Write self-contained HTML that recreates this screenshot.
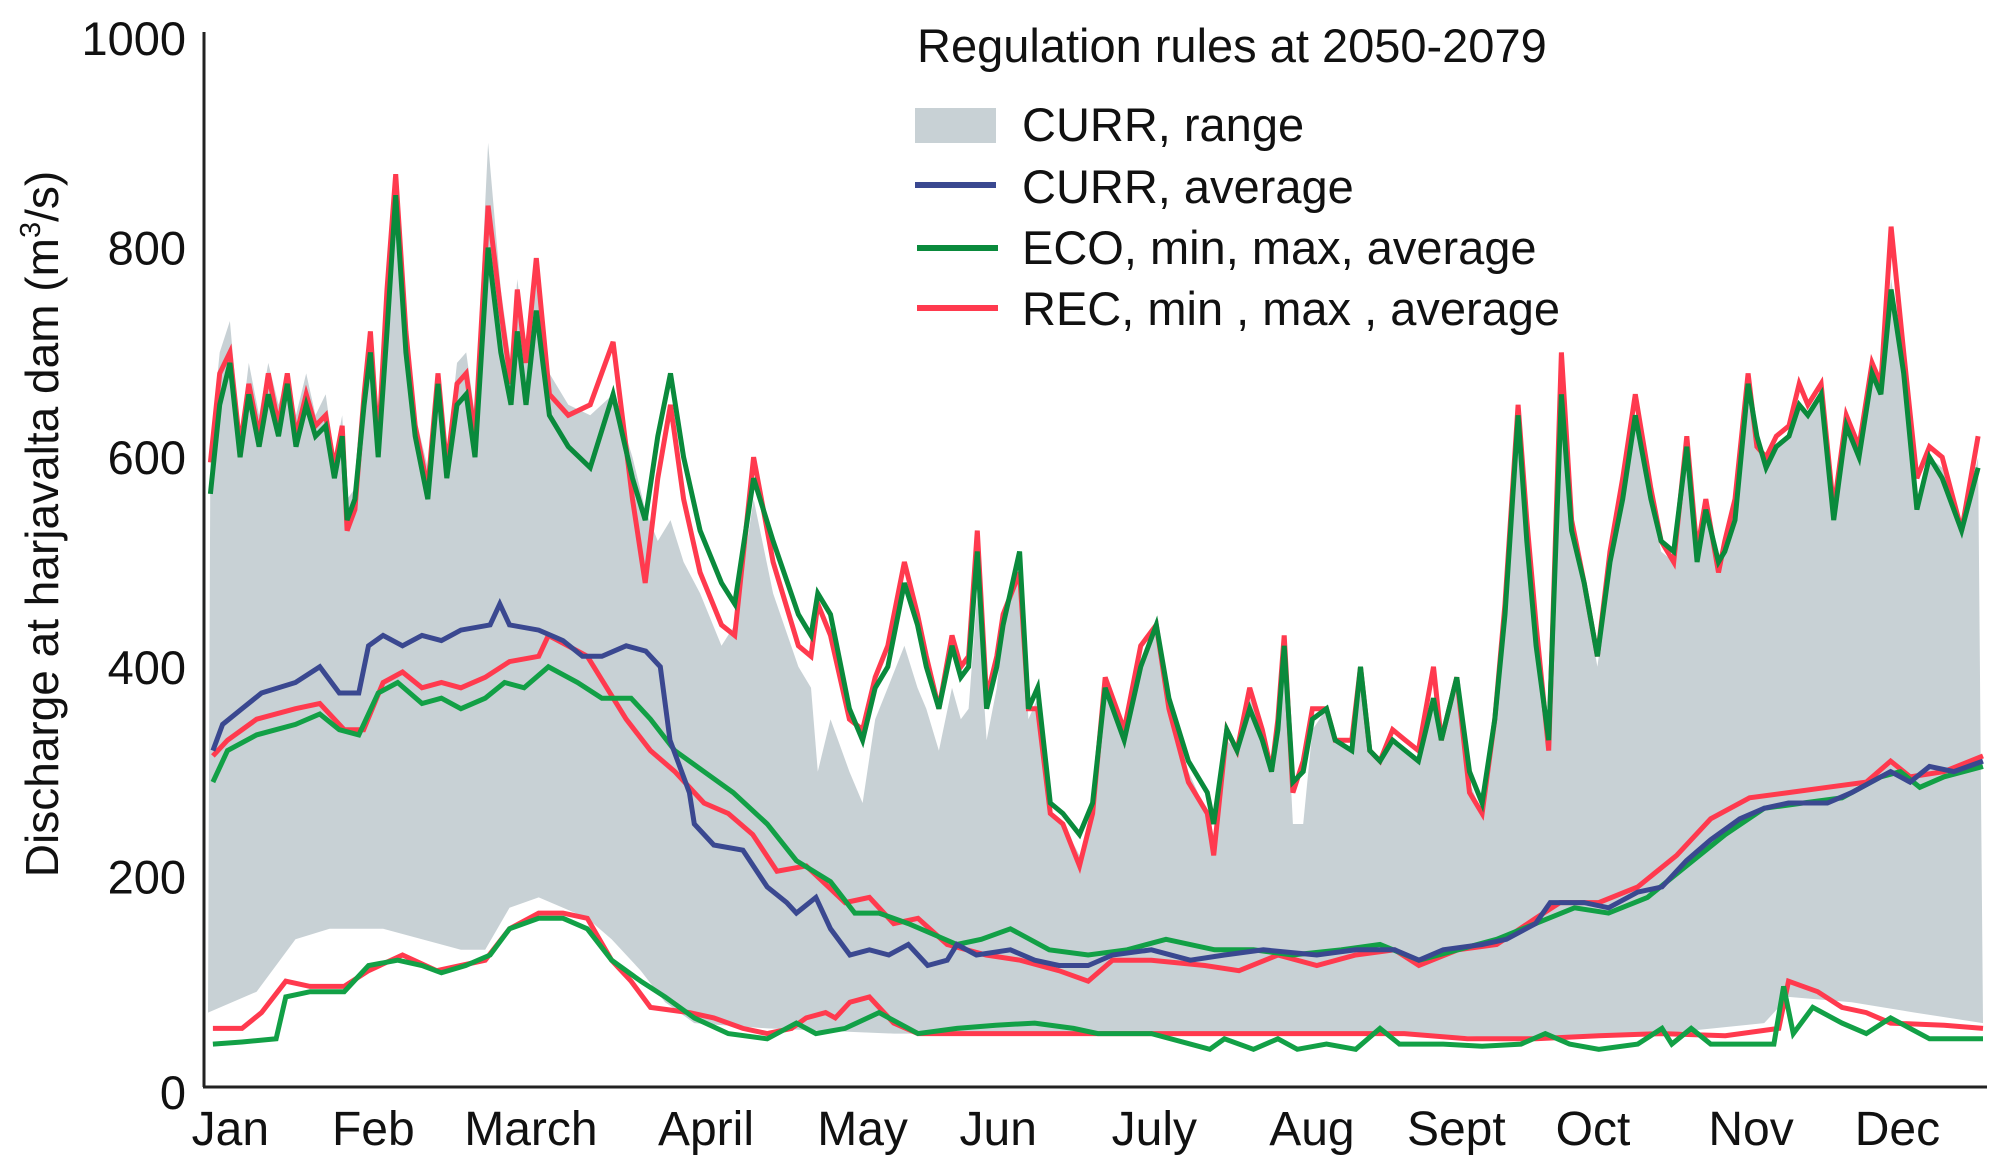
<!DOCTYPE html>
<html><head><meta charset="utf-8"><style>
html,body{margin:0;padding:0;background:#fff;}
svg{display:block;font-family:"Liberation Sans",Arial,sans-serif;}
</style></head><body>
<svg id="chart" width="2003" height="1172" viewBox="0 0 2003 1172" xmlns="http://www.w3.org/2000/svg">
<g id="plot"></g>
<line x1="204" y1="32" x2="204" y2="1087" stroke="#222" stroke-width="3"/>
<line x1="203" y1="1087" x2="1987" y2="1087" stroke="#222" stroke-width="3"/>
<g id="yticks" font-size="47" fill="#111" text-anchor="end"></g>
<g id="xticks" font-size="48" fill="#111" text-anchor="middle"></g>
<text transform="translate(58,524) rotate(-90)" text-anchor="middle" font-size="46" fill="#111">Discharge at harjavalta dam (m<tspan font-size="29" dy="-18">3</tspan><tspan dy="18">/s)</tspan></text>
<g font-size="47" fill="#111">
<text x="917" y="62">Regulation rules at 2050-2079</text>
<rect x="915" y="108" width="81" height="35" fill="#c8d1d5"/>
<text x="1022" y="141">CURR, range</text>
<line x1="915" y1="185" x2="996" y2="185" stroke="#3a4890" stroke-width="6"/>
<text x="1022" y="203">CURR, average</text>
<line x1="917" y1="248" x2="998" y2="248" stroke="#0a8a3c" stroke-width="6"/>
<text x="1022" y="264">ECO, min, max, average</text>
<line x1="917" y1="308" x2="998" y2="308" stroke="#ff3a4e" stroke-width="6"/>
<text x="1022" y="325">REC, min , max , average</text>
</g>
</svg>
<script>
const yTicks = [0,200,400,600,800,1000];
const months = ["Jan","Feb","March","April","May","Jun","July","Aug","Sept","Oct","Nov","Dec"];
const monthDays = [4.6,34,66.4,102.4,134.6,162.5,194.6,227,256.7,284.8,317.3,347.4];

const maxDays = [0.5,2.4,4.5,6.6,8.4,10.5,12.4,14.5,16.3,18.1,20.2,22.1,24.2,26.0,27.6,28.6,30.2,32.1,33.4,35.0,36.8,38.6,40.7,42.6,45.2,47.3,49.1,51.2,53.1,54.9,57.6,60.2,62.3,63.6,65.4,67.5,70.2,74.1,78.6,83.3,87.3,89.9,92.5,95.1,97.8,101.2,105.6,108.3,112.2,116.2,121.4,124.0,125.4,128.0,131.9,134.6,137.2,139.8,143.2,145.9,147.7,150.3,153.0,154.8,156.4,158.2,160.1,162.2,163.5,166.9,168.7,170.6,173.2,175.8,179.2,181.9,184.5,188.4,191.8,195.0,197.6,201.6,205.5,206.8,209.5,211.6,214.2,216.8,218.7,220.0,221.3,223.1,225.2,227.1,230.0,231.8,235.2,237.0,238.9,241.0,243.6,246.2,248.9,252.0,253.6,256.8,259.4,262.0,264.6,266.7,269.4,271.2,273.1,275.7,278.3,280.4,283.0,285.7,288.3,290.9,293.5,296.7,298.8,301.4,304.1,306.2,308.0,310.6,311.9,314.0,316.7,318.5,320.4,322.5,325.1,327.2,329.0,331.7,334.3,336.9,339.5,342.2,344.0,346.1,348.7,351.4,354.0,356.6,360.6,364.0];
const ecoMax = [565,650,690,600,660,610,660,620,670,610,650,620,630,580,620,540,560,650,700,600,720,850,700,620,560,670,580,650,660,600,800,700,650,720,650,740,640,610,590,660,580,540,620,680,600,530,480,460,580,520,450,430,470,450,360,330,380,400,480,440,400,360,420,390,400,510,360,400,440,510,360,380,270,260,240,270,380,330,400,440,370,310,280,250,340,320,360,330,300,340,420,290,300,350,360,330,320,400,320,310,330,320,310,370,330,390,300,270,350,450,640,520,420,330,660,530,480,410,500,560,640,560,520,510,610,500,550,500,510,540,670,620,590,610,620,650,640,660,540,630,600,680,660,760,680,550,600,580,530,590];
const recMax = [595,680,700,610,670,620,680,630,680,620,660,630,640,590,630,530,550,660,720,610,760,870,720,630,570,680,590,670,680,620,840,740,670,760,690,790,660,640,650,710,560,480,580,650,560,490,440,430,600,500,420,410,460,430,350,340,390,420,500,450,410,360,430,400,410,530,370,410,450,490,360,360,260,250,210,260,390,340,420,440,360,290,260,220,340,320,380,340,300,350,430,280,310,360,360,330,330,400,320,310,340,330,320,400,330,390,280,260,350,460,650,540,440,320,700,540,480,410,510,580,660,570,520,500,620,510,560,490,520,560,680,610,600,620,630,670,650,670,550,640,610,690,670,820,700,580,610,600,530,620];
const currRangeMax = [610,700,730,620,690,640,690,650,680,640,680,640,660,600,640,560,570,680,720,620,770,870,740,640,590,680,600,690,700,640,900,760,690,770,700,780,680,650,640,660,600,550,520,540,500,470,420,440,560,470,400,380,300,350,300,270,350,380,420,380,360,320,380,350,360,470,330,380,440,500,350,370,260,250,220,260,380,330,400,440,370,300,260,240,330,320,370,340,300,350,420,250,250,340,360,330,320,400,320,310,330,320,310,370,330,390,290,260,340,440,640,520,420,330,660,530,470,400,490,560,640,560,510,500,610,500,540,490,510,540,670,610,590,610,620,650,640,660,540,630,600,680,660,770,690,560,600,590,530,600];
const rangeMinDays = [0,10,18,25,36,44,52,57,62,68,73,78,83,89,94,100,115,141,167,194,220,246,273,299,320,325,338,351,365];
const currRangeMin = [70,90,140,150,150,140,130,130,170,180,170,160,140,110,80,60,55,50,50,50,50,50,45,50,60,85,80,70,60];
const currAvgDays = [1,3,7,11,18,23,27,31,33,36,40,44,48,52,58,60,62,68,73,77,81,86,90,93,95,99,100,104,110,115,119,121,125,128,132,136,140,144,148,152,154,158,165,170,175,181,186,194,202,209,217,228,236,244,249,254,262,267,273,276,283,288,294,299,304,309,315,320,325,333,338,346,350,354,359,365];
const currAvg = [320,345,360,375,385,400,375,375,420,430,420,430,425,435,440,460,440,435,425,410,410,420,415,400,330,280,250,230,225,190,175,165,180,150,125,130,125,135,115,120,135,125,130,120,115,115,125,130,120,125,130,125,130,130,120,130,135,140,155,175,175,170,185,190,215,235,255,265,270,270,280,300,290,305,300,310];
const recAvgDays = [1,4,10,18,23,28,32,36,40,44,48,52,57,62,68,70,74,78,82,86,91,96,102,107,112,117,123,131,136,141,146,152,160,167,175,181,186,194,205,212,220,228,236,244,249,257,265,273,278,286,294,302,309,317,325,333,341,346,350,357,365];
const recAvg = [315,330,350,360,365,340,340,385,395,380,385,380,390,405,410,430,420,410,380,350,320,300,270,260,240,205,210,175,180,155,160,135,125,120,110,100,120,120,115,110,125,115,125,130,115,130,135,160,175,175,190,220,255,275,280,285,290,310,295,300,315];
const ecoAvgDays = [1,4,10,18,23,27,31,35,39,44,48,52,57,61,65,70,76,81,87,91,96,102,108,115,121,128,133,138,144,149,154,159,165,173,181,189,197,207,215,223,233,241,249,257,265,273,281,288,296,304,312,320,328,336,344,348,352,357,365];
const ecoAvg = [290,320,335,345,355,340,335,375,385,365,370,360,370,385,380,400,385,370,370,350,320,300,280,250,215,195,165,165,155,145,135,140,150,130,125,130,140,130,130,125,130,135,120,130,140,155,170,165,180,210,240,265,270,275,295,300,285,295,305];
const recMinDays = [1,7,11,16,21,28,33,40,47,52,57,62,68,73,78,83,87,91,99,104,110,115,120,123,127,129,132,136,141,146,157,167,181,194,207,220,233,246,259,273,286,299,312,323,325,331,336,341,346,357,365];
const recMin = [55,55,70,100,95,95,110,125,110,115,120,150,165,165,160,120,100,75,70,65,55,50,55,65,70,65,80,85,60,50,50,50,50,50,50,50,50,50,45,45,48,50,48,55,100,90,75,70,60,58,55];
const ecoMinDays = [1,7,14,16,21,28,33,39,44,48,53,58,62,68,73,78,83,89,94,100,107,115,121,125,131,138,146,154,162,170,178,183,194,202,206,209,215,220,224,230,236,241,245,254,262,270,275,280,286,294,299,301,305,309,322,324,326,330,336,341,346,350,354,365];
const ecoMin = [40,42,45,85,90,90,115,120,115,108,115,125,150,160,160,150,120,100,85,65,50,45,60,50,55,70,50,55,58,60,55,50,50,40,35,45,35,45,35,40,35,55,40,40,38,40,50,40,35,40,55,40,55,40,40,95,50,75,60,50,65,55,45,45];

const NS = "http://www.w3.org/2000/svg";
function xScale(d){ return 208 + d * (1983 - 208) / 365; }
function yScale(v){ return 1086 - v * 1.048; }
const plot = document.getElementById('plot');

function linePath(days, vals){
  return days.map((d,i)=>(i?'L':'M')+xScale(d).toFixed(1)+','+yScale(vals[i]).toFixed(1)).join(' ');
}
const area = document.createElementNS(NS,'path');
let dA = linePath(maxDays, currRangeMax);
for (let i = rangeMinDays.length-1; i >= 0; i--) dA += ' L'+xScale(rangeMinDays[i]).toFixed(1)+','+yScale(currRangeMin[i]).toFixed(1);
area.setAttribute('d', dA+' Z');
area.setAttribute('fill','#c8d1d5');


plot.appendChild(area);

function addLine(days, vals, color, w, name){
  const p = document.createElementNS(NS,'path');
  p.setAttribute('d', linePath(days, vals));
  p.setAttribute('fill','none');
  p.setAttribute('stroke',color);
  p.setAttribute('stroke-width',w);
  p.setAttribute('stroke-linejoin','miter');
  
  
  plot.appendChild(p);
}
addLine(maxDays, recMax, '#ff3a4e', 5, 'rec-max-line');
addLine(maxDays, ecoMax, '#0a8a3c', 5, 'eco-max-line');
addLine(recMinDays, recMin, '#ff3a4e', 5, 'rec-min-line');
addLine(ecoMinDays, ecoMin, '#12a046', 5, 'eco-min-line');
addLine(recAvgDays, recAvg, '#ff3a4e', 5, 'rec-average-line');
addLine(ecoAvgDays, ecoAvg, '#12a046', 5, 'eco-average-line');
addLine(currAvgDays, currAvg, '#3a4890', 5, 'curr-average-line');

const yt = document.getElementById('yticks');
yTicks.forEach(v=>{
  const t = document.createElementNS(NS,'text');
  t.setAttribute('x', 186);
  t.setAttribute('y', yScale(v) + 17 + (v === 0 ? 6 : 0));
  t.textContent = v;
  
  
  yt.appendChild(t);
});
const xt = document.getElementById('xticks');
months.forEach((m,i)=>{
  const t = document.createElementNS(NS,'text');
  t.setAttribute('x', xScale(monthDays[i]));
  t.setAttribute('y', 1145);
  t.textContent = m;
  
  
  xt.appendChild(t);
});
</script>
</body></html>
